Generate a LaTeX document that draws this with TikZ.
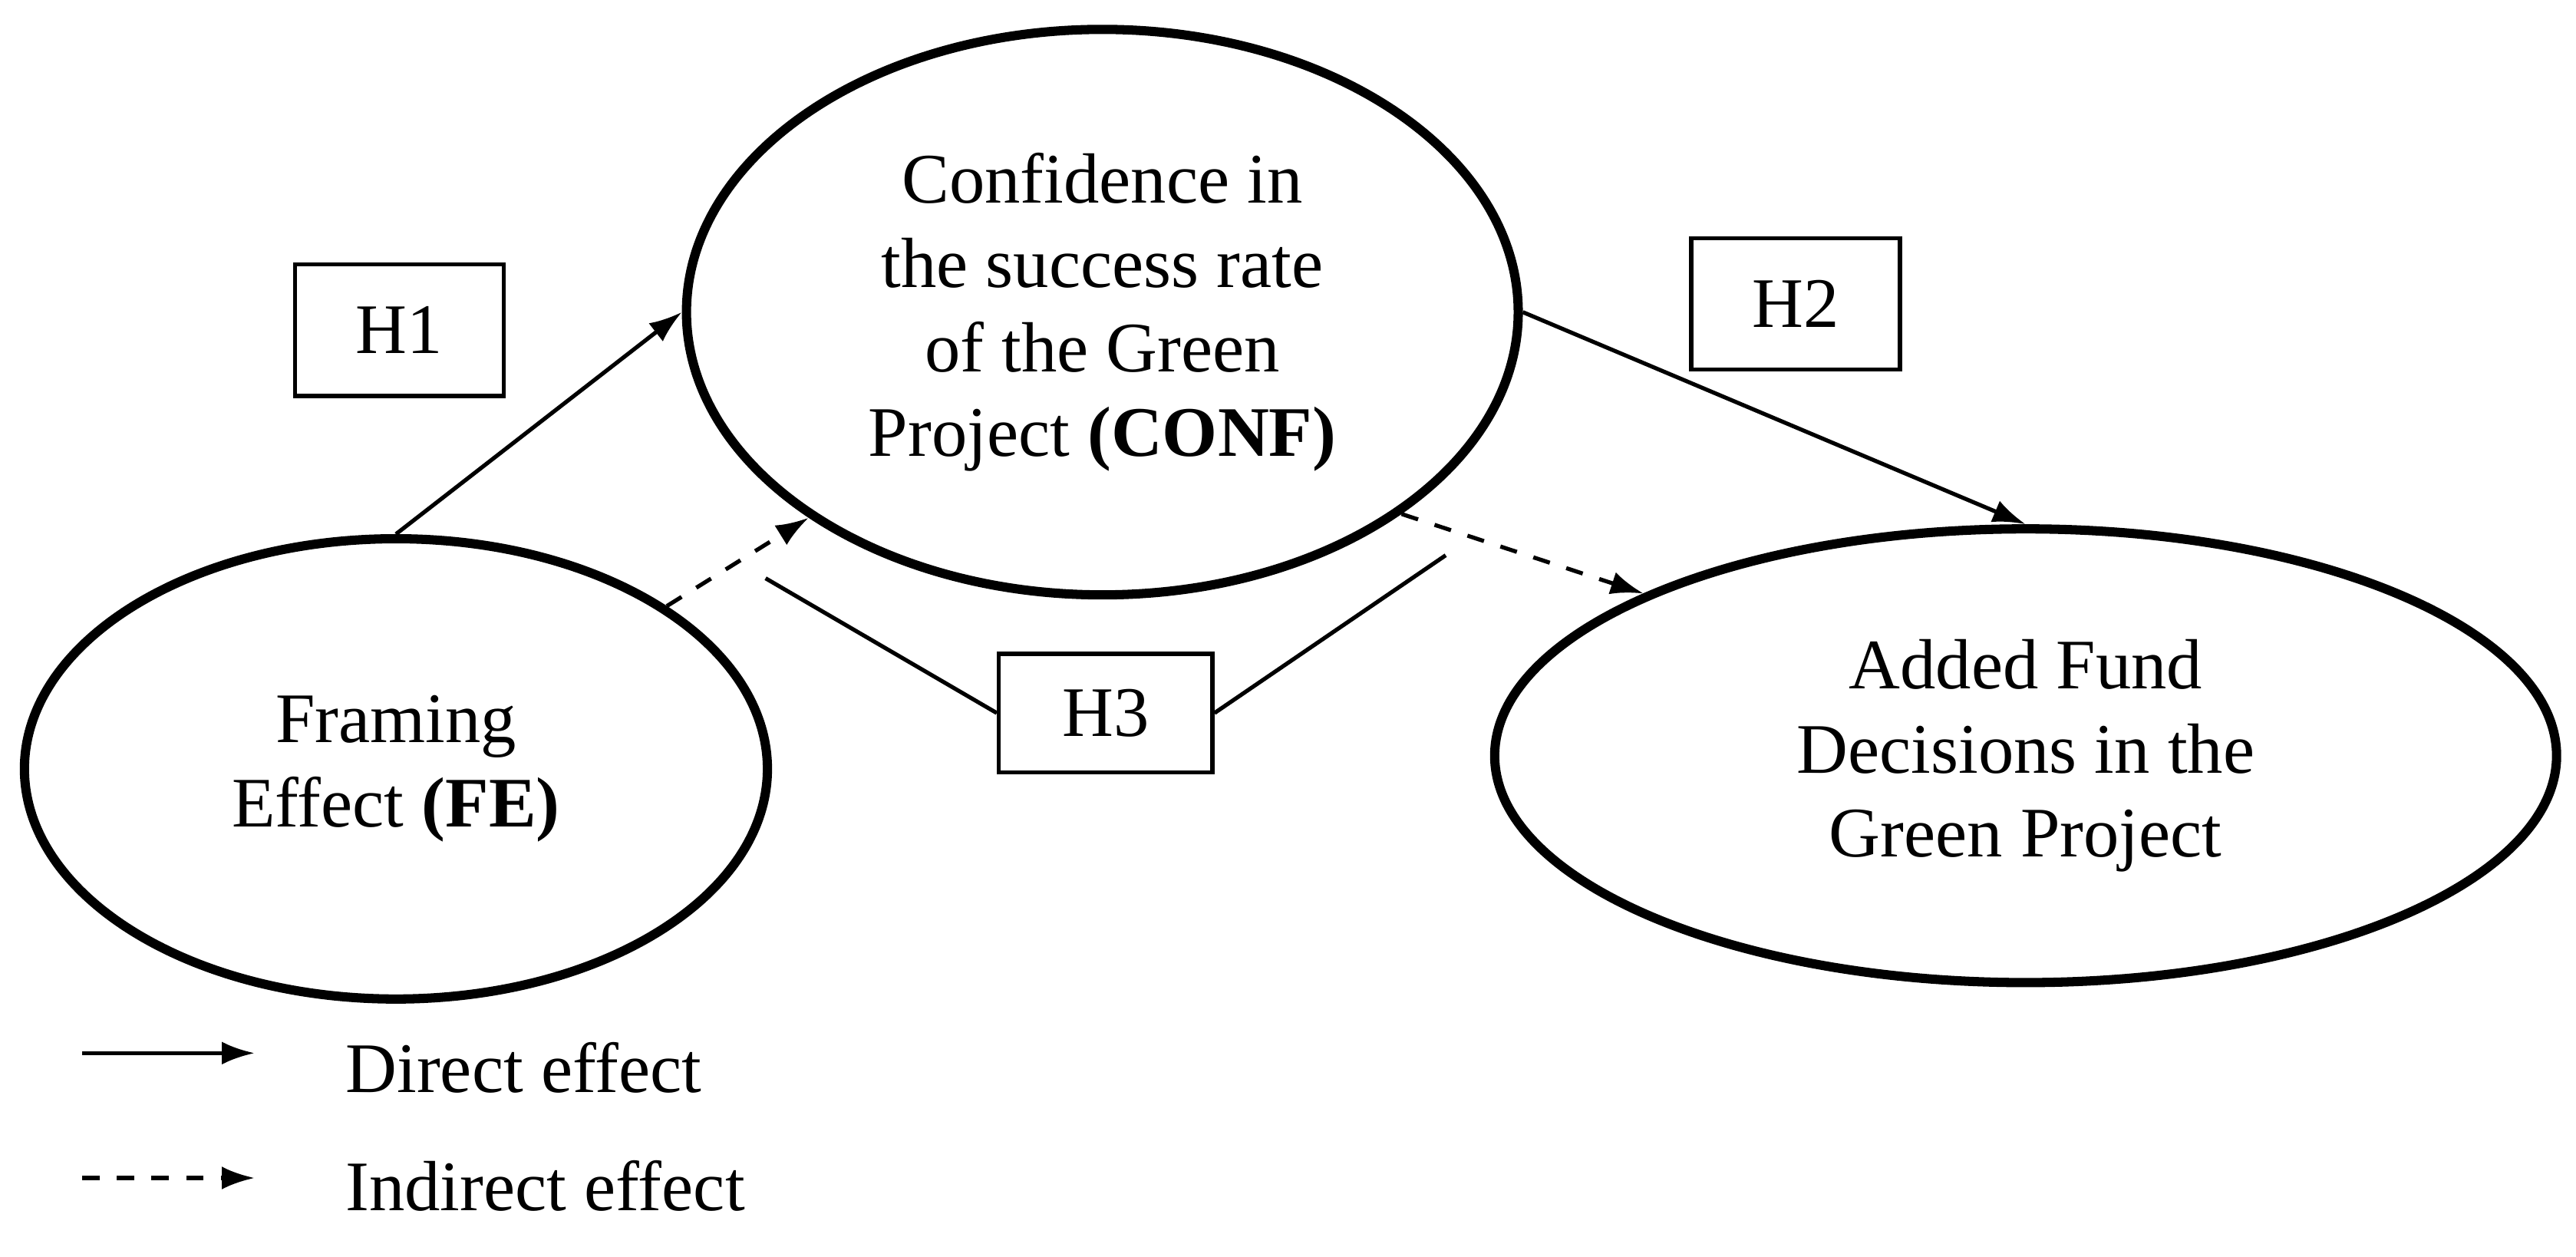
\documentclass[tikz,border=0pt]{standalone}
\usepackage{fontspec}
\setmainfont{Liberation Serif}
\usetikzlibrary{shapes.geometric, arrows.meta}
\tikzset{
  construct/.style = {draw, black, line width = 1.6pt, ellipse, align = center, inner sep = 0pt},
  hypo/.style = {draw, black, line width = 0.7pt, minimum width = 1.27cm, minimum height = 0.8cm, inner sep = 0pt},
  direct/.style = {black, line width = 0.7pt, -{Latex[length = 0.2cm, width = 0.14cm]}},
  indirect/.style = {black, line width = 0.7pt, dashed, -{Latex[length = 0.2cm, width = 0.14cm]}},
}
\begin{document}
\begin{tikzpicture}[x = 0.01cm, y = -0.01cm, font = \fontsize{12.3}{14.6}\selectfont]
            \useasboundingbox (0, 0) rectangle (1568, 765);

            % Konstrukti.
            \node[construct, minimum width = 5.06cm, minimum height = 3.44cm] (conf) at (671, 190) {Confidence in\\the success rate\\of the Green\\Project \textbf{(CONF)}};
            \node[construct, minimum width = 4.52cm, minimum height = 2.8cm] (fe) at (241, 468) {Framing\\Effect \textbf{(FE)}};
            \node[construct, minimum width = 6.46cm, minimum height = 2.76cm] (fund) at (1233, 460) {Added Fund\\Decisions in the\\Green Project};

            % Hipoteze.
            \node[hypo] (h1) at (243, 201) {H1};
            \node[hypo] (h2) at (1093, 185) {H2};
            \node[hypo, minimum width = 1.3cm, minimum height = 0.72cm] (h3) at (673, 434) {H3};

            % Direktni efekti.
            \draw[direct] (fe.north) -- (conf.west);
            \draw[direct] (conf.east) -- (fund.north);

            % Indirektni efekti.
            \draw[indirect] (fe.31.6) -- (conf.215);
            \draw[indirect] (conf.-34.8) -- (fund.157.4);

            % Oznaka H3.
            \coordinate (h3l) at (466, 352);
            \coordinate (h3r) at (880, 338);
            \draw[black, line width = 0.7pt] (h3l) -- (h3.west);
            \draw[black, line width = 0.7pt] (h3.east) -- (h3r);

            % Legenda.
            \coordinate (d1) at (50, 641);
            \coordinate (d2) at (155, 641);
            \coordinate (i1) at (50, 717);
            \coordinate (i2) at (155, 717);
            \draw[direct] (d1) -- (d2);
            \draw[indirect] (i1) -- (i2);
            \node[anchor = west] (dtext) at (198, 650) {Direct effect};
            \node[anchor = west] (itext) at (198, 722) {Indirect effect};
\end{tikzpicture}
\end{document}
